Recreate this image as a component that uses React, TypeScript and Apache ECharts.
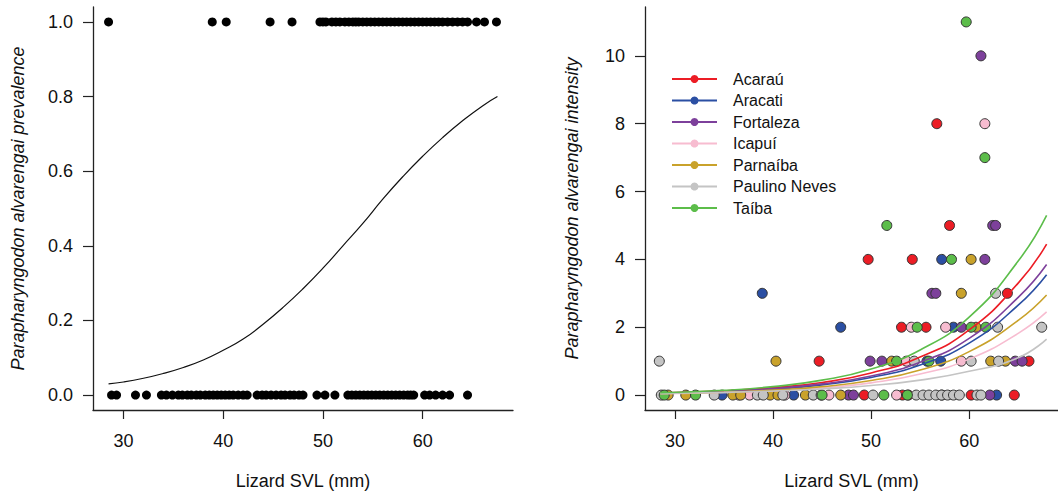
import React, { useEffect, useRef } from "react";
import * as echarts from "echarts";

// ---------- Left panel: prevalence ----------
const svlInfected = [
  28.5, 38.9, 40.3, 44.7, 46.9, 49.7, 50.0, 50.3, 50.9, 51.3, 51.7, 52.2, 52.6,
  53.0, 53.3, 53.6, 54.0, 54.4, 54.8, 55.2, 55.6, 56.0, 56.4, 56.8, 57.2, 57.6,
  58.0, 58.4, 58.8, 59.2, 59.6, 60.0, 60.4, 60.8, 61.2, 61.6, 62.0, 62.5, 63.0,
  63.5, 64.0, 64.5, 65.4, 66.2, 67.4,
];
const svlUninfected = [
  28.8, 29.3, 31.2, 32.3, 33.8, 34.3, 34.9, 35.5, 35.9, 36.4, 36.8, 37.3, 37.7,
  38.2, 38.6, 39.0, 39.4, 39.8, 40.2, 40.6, 41.0, 41.5, 42.0, 42.4, 43.4, 43.9,
  44.3, 44.8, 45.3, 45.8, 46.2, 46.7, 47.1, 47.6, 48.0, 49.4, 50.2, 51.2, 52.5,
  52.9, 53.3, 53.7, 54.1, 54.5, 54.9, 55.3, 55.7, 56.1, 56.5, 56.9, 57.3, 57.7,
  58.1, 58.5, 58.8, 59.1, 60.2, 60.7, 61.3, 62.0, 62.7, 64.5,
];
const prevCurveX = [28.5, 30, 32, 34, 36, 38, 40, 42, 44, 46, 48, 50, 52, 54, 56, 58, 60, 62, 64, 66, 67.5];
const prevCurveY = [0.03, 0.035, 0.045, 0.058, 0.074, 0.094, 0.12, 0.15, 0.19, 0.235, 0.285, 0.34, 0.4, 0.46, 0.525, 0.585, 0.64, 0.69, 0.735, 0.775, 0.8];

const prevTicksX = [30, 40, 50, 60];
const prevTicksY = [0, 0.2, 0.4, 0.6, 0.8, 1.0];

// ---------- Right panel: intensity ----------
const sites = ["Acaraú", "Aracati", "Fortaleza", "Icapuí", "Parnaíba", "Paulino Neves", "Taíba"];
const siteColors = ["#ec1d25", "#2b4fa3", "#7d409b", "#f7bcd0", "#c9a22b", "#c4c4c4", "#5cbd4a"];

const acarau = [[44.7, 1], [49.3, 0], [53.2, 0], [53.8, 0], [60.2, 0], [64.6, 0], [66.1, 1], [53.1, 2], [55.6, 2], [63.9, 3], [49.7, 4], [54.2, 4], [58.0, 5], [56.7, 8]];
const aracati = [[34.8, 0], [42.1, 0], [62.8, 0], [57.1, 1], [55.7, 1], [46.9, 2], [58.4, 2], [38.9, 3], [57.2, 4]];
const fortaleza = [[47.7, 0], [48.2, 0], [62.1, 0], [49.9, 1], [51.1, 1], [64.7, 1], [65.4, 1], [59.2, 2], [56.2, 3], [56.6, 3], [61.6, 4], [62.4, 5], [62.7, 5], [61.2, 10]];
const icapui = [[36.5, 0], [37.6, 0], [41.2, 0], [45.7, 0], [52.6, 0], [57.2, 0], [53.6, 1], [59.2, 1], [54.1, 2], [57.6, 2], [61.6, 8]];
const parnaiba = [[29.3, 0], [31.1, 0], [35.9, 0], [36.7, 0], [39.7, 0], [40.5, 0], [43.3, 0], [46.9, 0], [40.3, 1], [52.1, 1], [62.2, 1], [63.7, 1], [60.7, 2], [59.2, 3], [60.2, 4]];
const paulinoNeves = [[28.6, 0], [34.0, 0], [38.4, 0], [39.0, 0], [41.0, 0], [44.1, 0], [44.9, 0], [50.2, 0], [54.6, 0], [55.3, 0], [55.9, 0], [56.6, 0], [57.2, 0], [57.8, 0], [58.4, 0], [59.0, 0], [60.8, 0], [61.2, 0], [28.4, 1], [54.4, 1], [60.2, 1], [63.0, 1], [62.9, 2], [67.4, 2], [62.7, 3]];
const taiba = [[28.9, 0], [32.1, 0], [45.0, 0], [51.3, 0], [53.7, 0], [52.6, 1], [55.9, 1], [54.7, 2], [60.2, 2], [61.7, 2], [58.2, 4], [51.6, 5], [61.6, 7], [59.7, 11]];
const sitePoints = [acarau, aracati, fortaleza, icapui, parnaiba, paulinoNeves, taiba];

const fitX = [28.5, 35, 40, 45, 50, 55, 60, 65, 67.9];
const acarauFit = [0.06, 0.125, 0.22, 0.37, 0.65, 1.12, 1.92, 3.3, 4.45];
const aracatiFit = [0.05, 0.1, 0.17, 0.3, 0.52, 0.89, 1.53, 2.65, 3.55];
const fortalezaFit = [0.055, 0.11, 0.19, 0.33, 0.56, 0.97, 1.67, 2.88, 3.85];
const icapuiFit = [0.04, 0.075, 0.125, 0.21, 0.36, 0.62, 1.06, 1.82, 2.45];
const parnaibaFit = [0.045, 0.085, 0.145, 0.25, 0.43, 0.74, 1.28, 2.2, 2.95];
const paulinoNevesFit = [0.05, 0.08, 0.12, 0.18, 0.28, 0.44, 0.7, 1.1, 1.65];
const taibaFit = [0.07, 0.14, 0.25, 0.44, 0.77, 1.33, 2.3, 3.95, 5.3];
const siteFits = [acarauFit, aracatiFit, fortalezaFit, icapuiFit, parnaibaFit, paulinoNevesFit, taibaFit];

const intTicksX = [30, 40, 50, 60];
const intTicksY = [0, 2, 4, 6, 8, 10];

const FONT = "'Liberation Sans', Arial, Helvetica, sans-serif";
const AXIS_COLOR = "#222";

function xAxisCfg(gridIndex: number, ticks: number[]) {
  return {
    type: "value",
    gridIndex,
    min: 26.94,
    max: 69.06,
    name: "Lizard SVL (mm)",
    nameLocation: "middle",
    nameGap: 62,
    nameTextStyle: { fontFamily: FONT, fontSize: 18, color: "#111" },
    axisLine: { show: true, onZero: false, lineStyle: { color: AXIS_COLOR, width: 1.3 } },
    axisTick: { show: true, length: 9, customValues: ticks, lineStyle: { color: AXIS_COLOR, width: 1.2 } },
    axisLabel: { customValues: ticks, margin: 22, fontFamily: FONT, fontSize: 18, color: "#111" },
    splitLine: { show: false },
  };
}

function yAxisCfg(gridIndex: number, min: number, max: number, ticks: number[], name: string, digits: number, gap: number) {
  return {
    type: "value",
    gridIndex,
    min,
    max,
    name,
    nameLocation: "middle",
    nameGap: gap,
    nameRotate: 90,
    nameTextStyle: { fontFamily: FONT, fontSize: 18, fontStyle: "italic", color: "#111" },
    axisLine: { show: true, onZero: false, lineStyle: { color: AXIS_COLOR, width: 1.3 } },
    axisTick: { show: true, length: 10, customValues: ticks, lineStyle: { color: AXIS_COLOR, width: 1.2 } },
    axisLabel: {
      customValues: ticks,
      margin: 20,
      fontFamily: FONT,
      fontSize: 18,
      color: "#111",
      formatter: (v: number) => v.toFixed(digits),
    },
    splitLine: { show: false },
  };
}

export default function App() {
  const ref = useRef<HTMLDivElement>(null);
  useEffect(() => {
    if (!ref.current) return;
    const chart = echarts.init(ref.current, undefined, { renderer: "svg" });

    const series: any[] = [
      {
        type: "scatter",
        xAxisIndex: 0,
        yAxisIndex: 0,
        symbolSize: 9,
        itemStyle: { color: "#000", opacity: 1 },
        data: svlInfected.map((x) => [x, 1]),
      },
      {
        type: "scatter",
        xAxisIndex: 0,
        yAxisIndex: 0,
        symbolSize: 9,
        itemStyle: { color: "#000", opacity: 1 },
        data: svlUninfected.map((x) => [x, 0]),
      },
      {
        type: "line",
        xAxisIndex: 0,
        yAxisIndex: 0,
        smooth: true,
        showSymbol: false,
        symbol: "none",
        lineStyle: { color: "#111", width: 1.2 },
        data: prevCurveX.map((x, i) => [x, prevCurveY[i]]),
      },
    ];

    sites.forEach((s, i) => {
      series.push({
        type: "scatter",
        name: s + " points",
        xAxisIndex: 1,
        yAxisIndex: 1,
        symbolSize: 10,
        itemStyle: { color: siteColors[i], borderColor: "#333", borderWidth: 1, opacity: 1 },
        data: sitePoints[i],
        z: 2,
      });
    });
    sites.forEach((s, i) => {
      series.push({
        type: "line",
        name: s,
        xAxisIndex: 1,
        yAxisIndex: 1,
        smooth: true,
        symbol: "circle",
        symbolSize: 10,
        showSymbol: false,
        itemStyle: { color: siteColors[i] },
        lineStyle: { color: siteColors[i], width: 1.6 },
        data: fitX.map((x, k) => [x, siteFits[i][k]]),
        z: 3,
      });
    });

    chart.setOption({
      animation: false,
      backgroundColor: "#fff",
      grid: [
        { left: 93, top: 7, width: 420, height: 403, containLabel: false },
        { left: 645, top: 7, width: 420, height: 403, containLabel: false },
      ],
      xAxis: [xAxisCfg(0, prevTicksX), xAxisCfg(1, intTicksX)],
      yAxis: [
        yAxisCfg(0, -0.04, 1.04, prevTicksY, "Parapharyngodon alvarengai prevalence", 1, 66),
        yAxisCfg(1, -0.44, 11.44, intTicksY, "Parapharyngodon alvarengai intensity", 0, 64),
      ],
      legend: {
        data: sites,
        orient: "vertical",
        left: 666,
        top: 66,
        itemWidth: 45,
        itemHeight: 10,
        itemGap: 5.5,
        textStyle: { fontFamily: FONT, fontSize: 16, color: "#111", lineHeight: 16, padding: [0, 0, 0, 11] },
        selectedMode: false,
      },
      series,
    });
    return () => chart.dispose();
  }, []);
  return (
    <div
      ref={ref}
      style={{ position: "absolute", left: 0, top: 0, width: 1058, height: 496 }}
    />
  );
}
